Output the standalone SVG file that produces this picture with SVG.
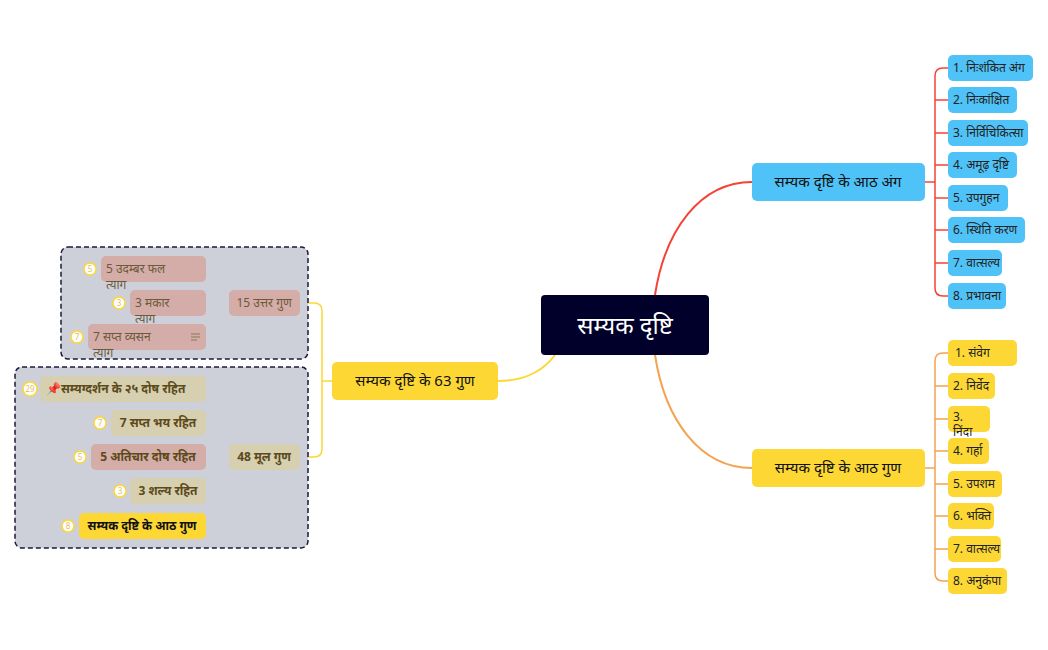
<svg xmlns="http://www.w3.org/2000/svg" width="1048" height="650" viewBox="0 0 1048 650">
<style>
text{font-family:"Noto Sans","Lato",sans-serif;}
.lf{font-size:12px;fill:#222;}
.bl{fill:#4fc3f7;}
.yl{fill:#fdd835;}
.pk{fill:#d4aca8;}
.kh{fill:#d6cfb0;}
.pt{font-size:12px;fill:#6b5a3a;}
.kt{font-size:12px;fill:#5c4a1a;font-weight:bold;}
.bd{fill:#fff;stroke:#fdd835;stroke-width:1.5;}
.bdt{font-size:8px;fill:#e0c060;text-anchor:middle;}
.grp{fill:#cdd0d9;stroke:#1a1a3a;stroke-width:1.5;stroke-dasharray:5,3;}
.m{font-size:15px;fill:#111;text-anchor:middle;}
</style>
<rect width="1048" height="650" fill="#fff"/>
<g id="connectors" fill="none" stroke-width="2">
<path d="M655,295 C665,230 700,182 752,182" stroke="#f44336"/>
<path d="M925,182 H935" stroke="#f44336" stroke-width="1.5"/>
<path d="M935,76 V288 M935,76 Q935,68 943,68 H948 M935,288 Q935,296 943,296 H948 M935,100 H948 M935,133 H948 M935,165 H948 M935,198 H948 M935,230 H948 M935,263 H948" stroke="#f44336" stroke-width="1.5"/>
<path d="M655,355 C665,420 700,468 752,468" stroke="#f4a352"/>
<path d="M925,468 H935" stroke="#f4a352" stroke-width="1.5"/>
<path d="M935,361 V573 M935,361 Q935,353 943,353 H948 M935,573 Q935,581 943,581 H948 M935,386 H948 M935,419 H948 M935,451 H948 M935,484 H948 M935,516 H948 M935,549 H948" stroke="#f4a352" stroke-width="1.5"/>
<path d="M555,355 C540,375 520,381 498,381" stroke="#fdd835"/>
<g stroke="#fdd835" stroke-width="1.5">
<path d="M332,381 H322 M300,303 H314 Q322,303 322,311 V449 Q322,457 314,457 H300"/>
<path d="M206,269 H212 Q219,269 219,276 V330 Q219,337 212,337 H206 M206,303 H229"/>
<path d="M206,389 H212 Q219,389 219,396 V519 Q219,526 212,526 H206 M206,423 H219 M206,457 H229 M206,491 H219"/>
<path d="M96,269 H101 M119,303 H130 M83,337 H88 M37,389 H40 M106,423 H111 M86,457 H91 M126,491 H130 M74,526 H79"/>
</g>
</g>
<g id="center"><rect x="541" y="295" width="168" height="60" rx="4" fill="#00002a"/><text x="625" y="334" font-size="24" fill="#fff" text-anchor="middle">सम्यक दृष्टि</text></g>
<g id="n-ang"><rect x="752" y="163" width="173" height="38" rx="5" class="bl"/><text x="838" y="187" class="m">सम्यक दृष्टि के आठ अंग</text></g>
<g id="n-gun"><rect x="752" y="449" width="173" height="38" rx="5" class="yl"/><text x="838" y="473" class="m">सम्यक दृष्टि के आठ गुण</text></g>
<g id="n-63"><rect x="332" y="362" width="166" height="38" rx="5" class="yl"/><text x="415" y="386" class="m">सम्यक दृष्टि के 63 गुण</text></g>
<g id="a1"><rect x="948" y="55" width="85" height="26" rx="5" class="bl"/><text x="953" y="72" class="lf">1. निःशंकित अंग</text></g>
<g id="a2"><rect x="948" y="87" width="69" height="26" rx="5" class="bl"/><text x="953" y="104" class="lf">2. निःकांक्षित</text></g>
<g id="a3"><rect x="948" y="120" width="80" height="26" rx="5" class="bl"/><text x="953" y="137" class="lf">3. निर्विचिकित्सा</text></g>
<g id="a4"><rect x="948" y="152" width="69" height="26" rx="5" class="bl"/><text x="953" y="169" class="lf">4. अमूढ़ दृष्टि</text></g>
<g id="a5"><rect x="948" y="185" width="60" height="26" rx="5" class="bl"/><text x="953" y="202" class="lf">5. उपगुहन</text></g>
<g id="a6"><rect x="948" y="217" width="77" height="26" rx="5" class="bl"/><text x="953" y="234" class="lf">6. स्थिति करण</text></g>
<g id="a7"><rect x="948" y="250" width="54" height="26" rx="5" class="bl"/><text x="953" y="267" class="lf">7. वात्सल्य</text></g>
<g id="a8"><rect x="948" y="283" width="58" height="26" rx="5" class="bl"/><text x="953" y="300" class="lf">8. प्रभावना</text></g>
<g id="g1"><rect x="948" y="340" width="69" height="26" rx="5" class="yl"/><text x="955" y="357" class="lf">1.    संवेग</text></g>
<g id="g2"><rect x="948" y="373" width="47" height="26" rx="5" class="yl"/><text x="953" y="390" class="lf">2. निर्वेद</text></g>
<g id="g3"><rect x="948" y="406" width="42" height="26" rx="5" class="yl"/><text x="953" y="421" class="lf">3.</text><text x="953" y="436" class="lf">निंदा</text></g>
<g id="g4"><rect x="948" y="438" width="41" height="26" rx="5" class="yl"/><text x="953" y="455" class="lf">4. गर्हा</text></g>
<g id="g5"><rect x="948" y="471" width="54" height="26" rx="5" class="yl"/><text x="953" y="488" class="lf">5. उपशम</text></g>
<g id="g6"><rect x="948" y="503" width="46" height="26" rx="5" class="yl"/><text x="953" y="520" class="lf">6. भक्ति</text></g>
<g id="g7"><rect x="948" y="536" width="53" height="26" rx="5" class="yl"/><text x="953" y="553" class="lf">7. वात्सल्य</text></g>
<g id="g8"><rect x="948" y="568" width="59" height="26" rx="5" class="yl"/><text x="953" y="585" class="lf">8. अनुकंपा</text></g>
<g id="box-uttar"><rect x="61" y="247" width="247" height="112" rx="7" class="grp"/></g>
<g id="box-mool"><rect x="15" y="367" width="293" height="181" rx="7" class="grp"/></g>
<g id="uttar"><rect x="229" y="290" width="71" height="26" rx="5" class="pk"/><text x="264" y="307" class="pt" text-anchor="middle">15 उत्तर गुण</text></g>
<g id="mool"><rect x="229" y="444" width="71" height="26" rx="5" class="kh"/><text x="264" y="461" class="kt" text-anchor="middle">48 मूल गुण</text></g>
<g id="u1"><rect x="101" y="256" width="105" height="26" rx="5" class="pk"/><text x="106" y="273" class="pt">5 उदम्बर फल</text><text x="106" y="289" class="pt">त्याग</text><circle cx="90" cy="269" r="6" class="bd"/><text x="90" y="272" class="bdt">5</text></g>
<g id="u2"><rect x="130" y="290" width="76" height="26" rx="5" class="pk"/><text x="135" y="307" class="pt">3 मकार</text><text x="135" y="323" class="pt">त्याग</text><circle cx="119" cy="303" r="6" class="bd"/><text x="119" y="306" class="bdt">3</text></g>
<g id="u3"><rect x="88" y="324" width="118" height="26" rx="5" class="pk"/><text x="93" y="341" class="pt">7 सप्त व्यसन</text><text x="93" y="357" class="pt">त्याग</text><path d="M191,334 H200 M191,337 H200 M191,340 H197" stroke="#8a7a5a" stroke-width="1.2"/><circle cx="77" cy="337" r="6" class="bd"/><text x="77" y="340" class="bdt">7</text></g>
<g id="m1"><rect x="40" y="376" width="166" height="26" rx="5" class="kh"/><text x="46" y="393" class="kt">📌सम्यग्दर्शन के २५ दोष रहित</text><circle cx="30" cy="389" r="7" class="bd"/><text x="30" y="392" class="bdt">29</text></g>
<g id="m2"><rect x="111" y="410" width="95" height="26" rx="5" class="kh"/><text x="158" y="427" class="kt" text-anchor="middle">7 सप्त भय रहित</text><circle cx="100" cy="423" r="6" class="bd"/><text x="100" y="426" class="bdt">7</text></g>
<g id="m3"><rect x="91" y="444" width="115" height="26" rx="5" class="pk"/><text x="148" y="461" class="kt" text-anchor="middle">5 अतिचार दोष रहित</text><circle cx="80" cy="457" r="6" class="bd"/><text x="80" y="460" class="bdt">5</text></g>
<g id="m4"><rect x="130" y="478" width="76" height="26" rx="5" class="kh"/><text x="168" y="495" class="kt" text-anchor="middle">3 शल्य रहित</text><circle cx="120" cy="491" r="6" class="bd"/><text x="120" y="494" class="bdt">3</text></g>
<g id="m5"><rect x="79" y="513" width="127" height="26" rx="5" class="yl"/><text x="142" y="530" font-size="12" font-weight="bold" fill="#111" text-anchor="middle">सम्यक दृष्टि के आठ गुण</text><circle cx="68" cy="526" r="6" class="bd"/><text x="68" y="529" class="bdt">8</text></g>
</svg>
